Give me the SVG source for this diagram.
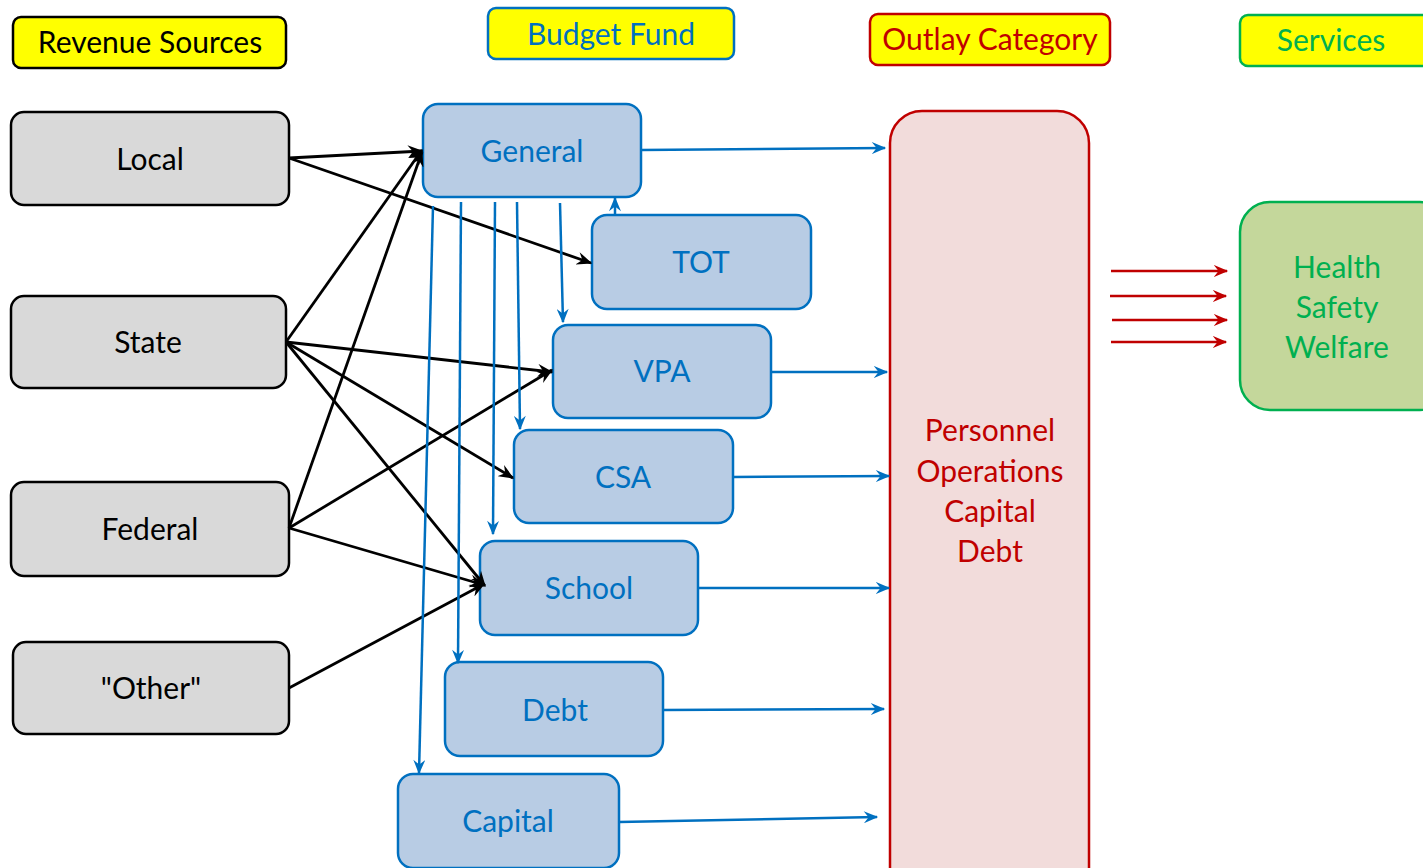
<svg xmlns="http://www.w3.org/2000/svg" width="1423" height="868" viewBox="0 0 1423 868">
  <defs>
    <style>
      .lbl { font-family: Lato, "Liberation Sans", sans-serif; font-size: 30px; text-anchor: middle; dominant-baseline: central; }
      .hdr { stroke-width: 2.5; }
      .src { fill: #d9d9d9; stroke: #000; stroke-width: 2.5; }
      .fund { fill: #b8cce4; stroke: #0070c0; stroke-width: 2.5; }
      .blk { fill: #000; }
      .blu { fill: #0070c0; }
      .red { fill: #c00000; }
      .grn { fill: #00b050; }
      .ck { stroke: #000; stroke-width: 2.8; fill: none; marker-end: url(#ahBlack); }
      .cb { stroke: #0070c0; stroke-width: 2.5; fill: none; marker-end: url(#ahBlue); }
      .cr { stroke: #c00000; stroke-width: 2.5; fill: none; marker-end: url(#ahRed); }
    </style>
    <marker id="ahBlack" viewBox="0 0 12 10" refX="11" refY="5" markerWidth="16" markerHeight="13" markerUnits="userSpaceOnUse" orient="auto">
      <path d="M0,0 L12,5 L0,10 L4,5 z" fill="#000"/>
    </marker>
    <marker id="ahBlue" viewBox="0 0 12 10" refX="11" refY="5" markerWidth="15" markerHeight="12" markerUnits="userSpaceOnUse" orient="auto">
      <path d="M0,0 L12,5 L0,10 L4,5 z" fill="#0070c0"/>
    </marker>
    <marker id="ahRed" viewBox="0 0 12 10" refX="11" refY="5" markerWidth="15" markerHeight="12" markerUnits="userSpaceOnUse" orient="auto">
      <path d="M0,0 L12,5 L0,10 L4,5 z" fill="#c00000"/>
    </marker>
  </defs>
  <rect width="1423" height="868" fill="#fff"/>

  <!-- column headers -->
  <g id="hdr-revenue">
    <rect x="13" y="17" width="273" height="51" rx="8" fill="#ffff00" stroke="#000" class="hdr"/>
    <text x="150" y="41" class="lbl blk">Revenue Sources</text>
  </g>
  <g id="hdr-fund">
    <rect x="488" y="8" width="246" height="51" rx="8" fill="#ffff00" stroke="#0070c0" class="hdr"/>
    <text x="611" y="33" class="lbl blu">Budget Fund</text>
  </g>
  <g id="hdr-outlay">
    <rect x="870" y="14" width="240" height="51" rx="8" fill="#ffff00" stroke="#c00000" class="hdr"/>
    <text x="990" y="38" class="lbl red">Outlay Category</text>
  </g>
  <g id="hdr-services">
    <rect x="1240" y="15" width="190" height="51" rx="8" fill="#ffff00" stroke="#00b050" class="hdr"/>
    <text x="1331" y="39" class="lbl grn">Services</text>
  </g>

  <!-- revenue sources -->
  <g id="src-local">
    <rect x="11" y="112" width="278" height="93" rx="13" class="src"/>
    <text x="150" y="158" class="lbl blk">Local</text>
  </g>
  <g id="src-state">
    <rect x="11" y="296" width="275" height="92" rx="13" class="src"/>
    <text x="148" y="341" class="lbl blk">State</text>
  </g>
  <g id="src-federal">
    <rect x="11" y="482" width="278" height="94" rx="13" class="src"/>
    <text x="150" y="528" class="lbl blk">Federal</text>
  </g>
  <g id="src-other">
    <rect x="13" y="642" width="276" height="92" rx="13" class="src"/>
    <text x="151" y="687" class="lbl blk">"Other"</text>
  </g>

  <!-- budget funds -->
  <g id="fund-general">
    <rect x="423" y="104" width="218" height="93" rx="15" class="fund"/>
    <text x="532" y="150" class="lbl blu">General</text>
  </g>
  <g id="fund-tot">
    <rect x="592" y="215" width="219" height="94" rx="15" class="fund"/>
    <text x="701" y="261" class="lbl blu">TOT</text>
  </g>
  <g id="fund-vpa">
    <rect x="553" y="325" width="218" height="93" rx="15" class="fund"/>
    <text x="662" y="370" class="lbl blu">VPA</text>
  </g>
  <g id="fund-csa">
    <rect x="514" y="430" width="219" height="93" rx="15" class="fund"/>
    <text x="623" y="476" class="lbl blu">CSA</text>
  </g>
  <g id="fund-school">
    <rect x="480" y="541" width="218" height="94" rx="15" class="fund"/>
    <text x="589" y="587" class="lbl blu">School</text>
  </g>
  <g id="fund-debt">
    <rect x="445" y="662" width="218" height="94" rx="15" class="fund"/>
    <text x="555" y="709" class="lbl blu">Debt</text>
  </g>
  <g id="fund-capital">
    <rect x="398" y="774" width="221" height="94" rx="15" class="fund"/>
    <text x="508" y="820" class="lbl blu">Capital</text>
  </g>

  <!-- outlay categories -->
  <g id="outlay">
    <rect x="890" y="111" width="199" height="790" rx="32" fill="#f2dcdb" stroke="#c00000" stroke-width="2.5"/>
    <text x="990" y="429" class="lbl red">Personnel</text>
    <text x="990" y="470" class="lbl red">Operations</text>
    <text x="990" y="510" class="lbl red">Capital</text>
    <text x="990" y="550" class="lbl red">Debt</text>
  </g>

  <!-- services -->
  <g id="services">
    <rect x="1240" y="202" width="210" height="208" rx="30" fill="#c4d79b" stroke="#00b050" stroke-width="2.5"/>
    <text x="1337" y="266" class="lbl grn">Health</text>
    <text x="1337" y="306" class="lbl grn">Safety</text>
    <text x="1337" y="346" class="lbl grn">Welfare</text>
  </g>

  <!-- connectors -->
  <g id="connectors">
    <!-- revenue to funds -->
    <line x1="289" y1="158" x2="422" y2="151" class="ck"/>
    <line x1="289" y1="158" x2="591" y2="263" class="ck"/>
    <line x1="286" y1="342" x2="422" y2="150" class="ck"/>
    <line x1="286" y1="342" x2="552" y2="372" class="ck"/>
    <line x1="286" y1="342" x2="513" y2="478" class="ck"/>
    <line x1="286" y1="342" x2="485" y2="586" class="ck"/>
    <line x1="289" y1="528" x2="422" y2="152" class="ck"/>
    <line x1="289" y1="528" x2="552" y2="370" class="ck"/>
    <line x1="289" y1="528" x2="484" y2="585" class="ck"/>
    <line x1="289" y1="688" x2="484" y2="584" class="ck"/>

    <!-- general fund transfers -->
    <line x1="433" y1="206" x2="419" y2="773" class="cb"/>
    <line x1="461" y1="202" x2="458" y2="663" class="cb"/>
    <line x1="495" y1="202" x2="493" y2="534" class="cb"/>
    <line x1="517" y1="202" x2="520" y2="429" class="cb"/>
    <line x1="560" y1="203" x2="563" y2="322" class="cb"/>
    <line x1="615" y1="215" x2="615" y2="198" class="cb"/>

    <!-- funds to outlay -->
    <line x1="641" y1="150" x2="885" y2="148" class="cb"/>
    <line x1="771" y1="372" x2="887" y2="372" class="cb"/>
    <line x1="733" y1="477" x2="889" y2="476" class="cb"/>
    <line x1="698" y1="588" x2="889" y2="588" class="cb"/>
    <line x1="663" y1="710" x2="884" y2="709" class="cb"/>
    <line x1="619" y1="822" x2="877" y2="817" class="cb"/>

    <!-- outlay to services -->
    <line x1="1111" y1="271" x2="1227" y2="271" class="cr"/>
    <line x1="1110" y1="296" x2="1226" y2="296" class="cr"/>
    <line x1="1112" y1="320" x2="1227" y2="320" class="cr"/>
    <line x1="1111" y1="342" x2="1226" y2="342" class="cr"/>
  </g>
</svg>
